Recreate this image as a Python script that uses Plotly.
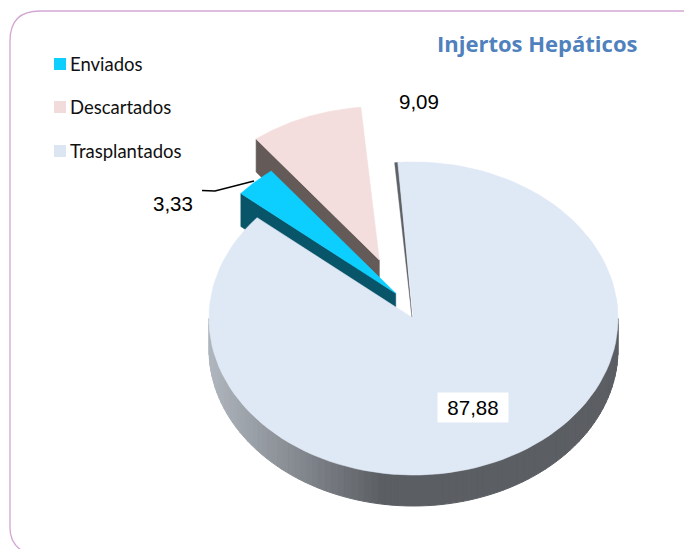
import numpy as np
import plotly.graph_objects as go

# ---- data ----
categories = ["Trasplantados", "Enviados", "Descartados"]
values = [87.88, 3.33, 9.09]
title_text = "Injertos Hepáticos"
value_labels = ["87,88", "3,33", "9,09"]
legend_order = ["Enviados", "Descartados", "Trasplantados"]

# ---- styling and layout ----
W, H = 685, 549
CX, CY, RX, RY = 413.5, 318.5, 204.5, 156.5
DEPTH = 31
WALL_DEPTH = 33
START = -5.3  # degrees clockwise from top
TOP = {"Trasplantados": "#dfe8f5", "Enviados": "#0dcfff", "Descartados": "#f4dedd"}
WALL = {"Trasplantados": "#5e6166", "Enviados": "#085468", "Descartados": "#645b59"}
SWATCH = {"Trasplantados": "#dce6f2", "Enviados": "#0dcfff", "Descartados": "#f2dcdb"}
OFFSET = {"Trasplantados": (0, 0), "Enviados": (-17.8, -25.2), "Descartados": (-34.2, -58.5)}
SCALE = {"Trasplantados": 1.0, "Enviados": 0.99, "Descartados": 0.98}
LEGEND_Y = [64, 107, 151]


def rim(a0, a1, n=120, off=(0, 0), dy=0, s=1.0):
    t = np.radians(np.linspace(a0, a1, n))
    return CX + off[0] + s * RX * np.sin(t), CY + off[1] + dy - s * RY * np.cos(t)


def wedge(a0, a1, off=(0, 0), s=1.0):
    x, y = rim(a0, a1, off=off, s=s)
    return (np.r_[CX + off[0], x, CX + off[0]], np.r_[CY + off[1], y, CY + off[1]])


def poly(fig, x, y, color, name, line=0.6):
    fig.add_trace(go.Scatter(x=x, y=y, mode="lines", fill="toself", fillcolor=color,
                             line=dict(color=color, width=line), name=name,
                             showlegend=False, hoverinfo="skip"))


def cut_wall(fig, a, off, s, color, name):
    ox, oy = CX + off[0], CY + off[1]
    rx, ry = rim(a, a, n=1, off=off, s=s)
    poly(fig, [ox, rx[0], rx[0], ox, ox],
         [oy, ry[0], ry[0] + WALL_DEPTH, oy + WALL_DEPTH, oy], color, name)


total = sum(values)
sweeps = [v / total * 360 for v in values]
edges = START + np.cumsum([0] + sweeps)
span = {c: (edges[i], edges[i + 1]) for i, c in enumerate(categories)}

fig = go.Figure()

# Descartados, then Enviados: cut wall and top face
for c in ["Descartados", "Enviados"]:
    a0, a1 = span[c]
    off = OFFSET[c]
    cut_wall(fig, a0, off, SCALE[c], WALL[c], c)
    x, y = wedge(a0, a1, off, SCALE[c])
    poly(fig, x, y, TOP[c], c)

# Trasplantados: outer rim with a left-to-right gradient
a0, a1 = span["Trasplantados"]
light, dark = np.array([176, 182, 190]), np.array([91, 94, 99])
steps = np.linspace(90, 270, 91)
for s0, s1 in zip(steps[:-1], steps[1:]):
    xa, ya = rim(s0, s1, n=5)
    xb, yb = rim(s1, s0, n=5, dy=DEPTH)
    f = np.clip((CX - 30 - xa.mean()) / (RX - 30), 0, 1)
    col = dark + (light - dark) * f
    color = "rgb(%d,%d,%d)" % tuple(col)
    poly(fig, np.r_[xa, xb, xa[0]], np.r_[ya, yb, ya[0]], color, "Trasplantados", line=1)

# Trasplantados: thin sliver of its inner wall along the start edge
sx, sy = rim(a0, a0 + 1.0, n=4)
poly(fig, np.r_[CX - 1.5, sx, CX - 1.5], np.r_[CY - 1, sy, CY - 1], WALL["Trasplantados"], "Trasplantados", line=0.4)

# Trasplantados: top face
x, y = wedge(a0 + 0.9, a1)
poly(fig, x, y, TOP["Trasplantados"], "Trasplantados")

# Leader line of the 3,33 label
fig.add_trace(go.Scatter(x=[202, 215, 254], y=[190.5, 191, 181], mode="lines",
                         line=dict(color="#000000", width=1.4), showlegend=False, hoverinfo="skip"))

# Legend drawn with square markers and text
fig.add_trace(go.Scatter(
    x=[60, 60, 60], y=LEGEND_Y, mode="markers",
    marker=dict(symbol="square", size=12, color=[SWATCH[c] for c in legend_order]),
    showlegend=False, hoverinfo="skip"))
for name, ly in zip(legend_order, LEGEND_Y):
    fig.add_annotation(x=70, y=ly, text=name, showarrow=False, xanchor="left", yanchor="middle",
                       xshift=-1, borderpad=0,
                       font=dict(family="Lato", size=18.5, color="#111111"))

# Data labels
label_font = dict(family="Liberation Sans", size=20.5, color="#000000")
fig.add_annotation(x=473, y=407.5, text=value_labels[0], showarrow=False, font=label_font,
                   bgcolor="#ffffff", width=68, height=27)
fig.add_annotation(x=173, y=203, text=value_labels[1], showarrow=False, font=label_font)
fig.add_annotation(x=419, y=101, text=value_labels[2], showarrow=False, font=label_font)
fig.add_annotation(x=537, y=43, text="<b>%s</b>" % title_text, showarrow=False,
                   font=dict(family="Open Sans", size=22, color="#4f81bd"))

# Rounded frame, open to the right and clipped at the bottom
fig.add_shape(type="path", layer="below",
              path="M 684 11 L 40 11 Q 10 11 10 41 L 10 528 Q 10 544 24 552",
              line=dict(color="#d3a6d3", width=1.3))

fig.update_layout(
    width=W, height=H, margin=dict(l=0, r=0, t=0, b=0),
    paper_bgcolor="#ffffff", plot_bgcolor="#ffffff", showlegend=False,
    xaxis=dict(range=[0, W], visible=False, fixedrange=True),
    yaxis=dict(range=[H, 0], visible=False, fixedrange=True),
)
fig.write_html("out.html", config={"displayModeBar": False},
               post_script="document.body.style.margin='0';document.body.style.overflow='hidden';")
